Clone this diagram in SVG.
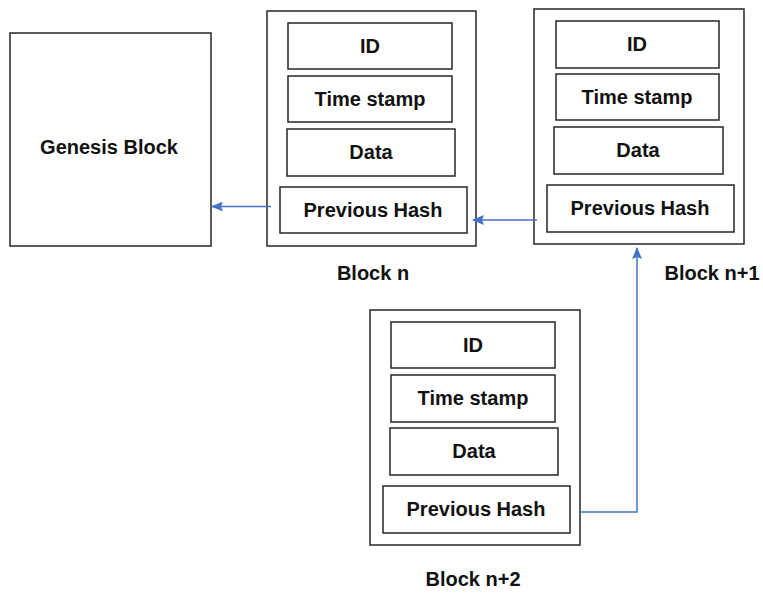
<svg xmlns="http://www.w3.org/2000/svg" width="763" height="595" viewBox="0 0 763 595">
  <defs>
    <style>
      .box { fill: #ffffff; stroke: #262626; stroke-width: 1.5; }
      .lbl { font-family: "Liberation Sans", Arial, sans-serif; font-weight: bold; font-size: 20px; fill: #111111; text-anchor: middle; }
      .link { fill: none; stroke: #4472c4; stroke-width: 1.5; }
    </style>
    <marker id="arrow" viewBox="0 0 12 10" refX="11" refY="5" markerWidth="12" markerHeight="10" orient="auto" markerUnits="userSpaceOnUse">
      <path d="M0,0 L12,5 L0,10 L2,5 z" fill="#4472c4"/>
    </marker>
  </defs>
  <rect width="763" height="595" fill="#ffffff"/>

  <!-- Genesis block -->
  <g id="genesis">
    <rect class="box" x="10" y="33" width="201" height="213"/>
    <text class="lbl" x="109" y="154">Genesis Block</text>
  </g>

  <!-- Block n -->
  <g id="block-n">
    <rect class="box" x="267" y="11" width="209" height="235"/>
    <rect class="box" x="288" y="23" width="164" height="46"/>
    <text class="lbl" x="370" y="53">ID</text>
    <rect class="box" x="288" y="76" width="164" height="46"/>
    <text class="lbl" x="370" y="106">Time stamp</text>
    <rect class="box" x="287" y="129" width="168" height="47"/>
    <text class="lbl" x="371" y="159">Data</text>
    <rect class="box" x="280" y="187" width="187" height="46"/>
    <text class="lbl" x="373" y="217">Previous Hash</text>
    <text class="lbl" x="373" y="280">Block n</text>
  </g>

  <!-- Block n+1 -->
  <g id="block-n1">
    <rect class="box" x="534" y="9" width="210" height="235"/>
    <rect class="box" x="556" y="21" width="163" height="47"/>
    <text class="lbl" x="637" y="51">ID</text>
    <rect class="box" x="556" y="74" width="163" height="46"/>
    <text class="lbl" x="637" y="104">Time stamp</text>
    <rect class="box" x="554" y="127" width="169" height="47"/>
    <text class="lbl" x="638" y="157">Data</text>
    <rect class="box" x="547" y="185" width="187" height="47"/>
    <text class="lbl" x="640" y="215">Previous Hash</text>
    <text class="lbl" x="712" y="280">Block n+1</text>
  </g>

  <!-- Block n+2 -->
  <g id="block-n2">
    <rect class="box" x="370" y="310" width="210" height="235"/>
    <rect class="box" x="391" y="322" width="164" height="46"/>
    <text class="lbl" x="473" y="352">ID</text>
    <rect class="box" x="391" y="375" width="164" height="47"/>
    <text class="lbl" x="473" y="405">Time stamp</text>
    <rect class="box" x="390" y="428" width="168" height="47"/>
    <text class="lbl" x="474" y="458">Data</text>
    <rect class="box" x="383" y="486" width="187" height="47"/>
    <text class="lbl" x="476" y="516">Previous Hash</text>
    <text class="lbl" x="473" y="586">Block n+2</text>
  </g>

  <!-- Hash links -->
  <g id="connectors">
    <path class="link" d="M271,206.5 L212,206.5" marker-end="url(#arrow)"/>
    <path class="link" d="M537,220 L473,220" marker-end="url(#arrow)"/>
    <path class="link" d="M580,512 L637,512 L637,248" marker-end="url(#arrow)"/>
  </g>
</svg>
